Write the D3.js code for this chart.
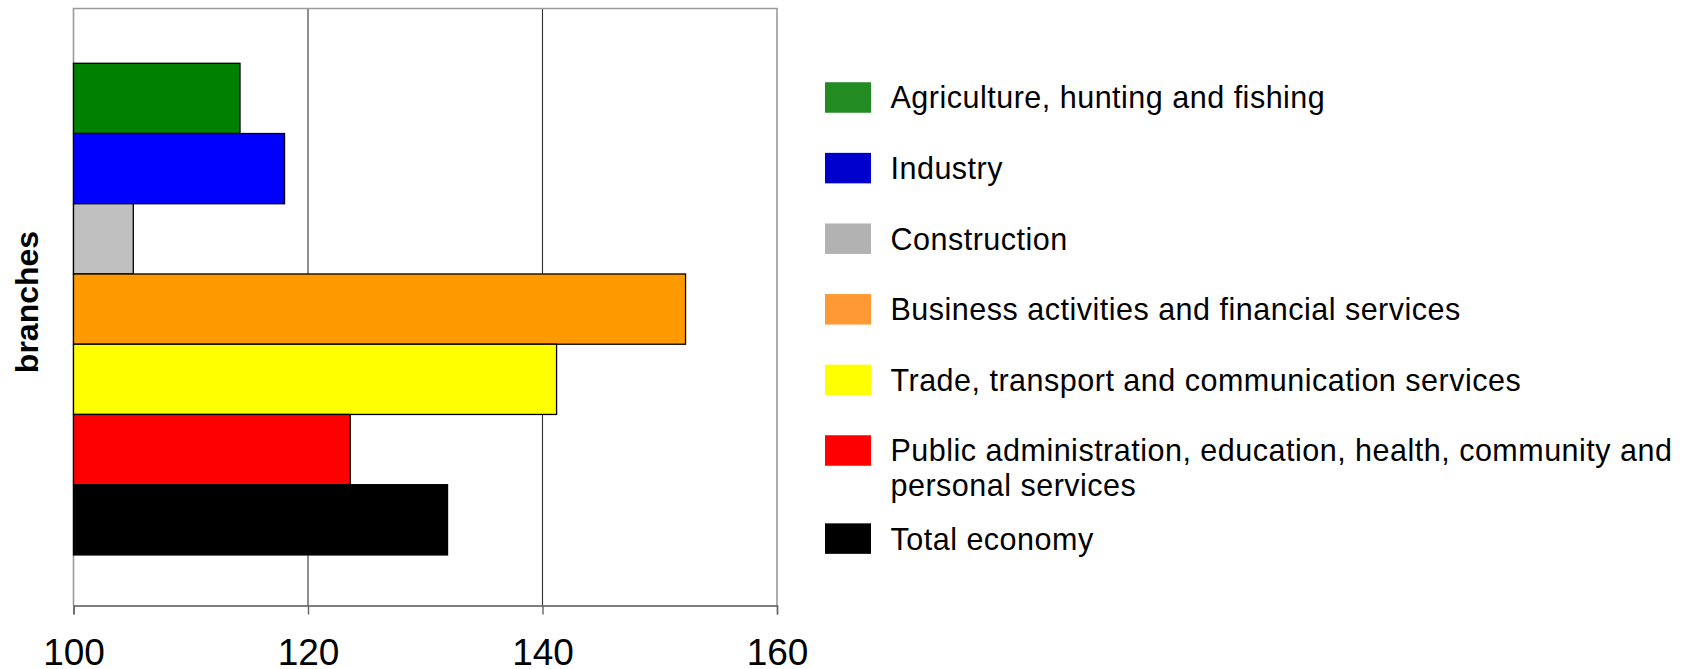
<!DOCTYPE html>
<html>
<head>
<meta charset="utf-8">
<script src="https://cdn.jsdelivr.net/npm/d3@7"></script>
<style>
  html, body { margin: 0; padding: 0; background: #fff; }
  svg { display: block; font-family: "Liberation Sans", Arial, sans-serif; }
</style>
</head>
<body>
<svg id="chart" width="1693" height="669"></svg>
<script>
// Branch names, top to bottom
const branches = [
  "Agriculture, hunting and fishing",
  "Industry",
  "Construction",
  "Business activities and financial services",
  "Trade, transport and communication services",
  "Public administration, education, health, community and personal services",
  "Total economy"
];
// Index values per branch
const values = [114.2, 118.0, 105.1, 152.2, 141.2, 123.6, 131.9];
// Horizontal axis ticks
const xTicks = [100, 120, 140, 160];
const axisTitle = "branches";

// Fill colours for bars and legend keys
const barColors    = ["#008000", "#0000FF", "#C0C0C0", "#FF9900", "#FFFF00", "#FF0000", "#000000"];
const legendColors = ["#228B22", "#0000CC", "#B2B2B2", "#FF9933", "#FFFF00", "#FF0000", "#000000"];

const svg = d3.select("#chart");
const W = 1693;

const plot = { left: 73.5, right: 777, top: 8.5, bottom: 605.5 };

const x = d3.scaleLinear()
  .domain([xTicks[0], xTicks[xTicks.length - 1]])
  .range([plot.left, plot.right]);

const y = d3.scaleBand()
  .domain(branches)
  .range([plot.top, plot.bottom])
  .paddingInner(0)
  .paddingOuter(0.75)
  .align(0.52);

// Vertical gridlines
svg.append("g")
  .selectAll("line")
  .data(xTicks.slice(1, -1))
  .join("line")
  .attr("x1", d => x(d)).attr("x2", d => x(d))
  .attr("y1", plot.top).attr("y2", plot.bottom)
  .attr("stroke", "#333")
  .attr("stroke-width", 1.1);

// Plot frame (top, left, right)
svg.append("path")
  .attr("d", `M${plot.left},${plot.bottom} V${plot.top} H${plot.right} V${plot.bottom}`)
  .attr("fill", "none")
  .attr("stroke", "#9a9a9a")
  .attr("stroke-width", 1.6);

// Bars
const rows = branches.map((b, i) => ({ name: b, value: values[i], color: barColors[i] }));
svg.append("g")
  .selectAll("rect")
  .data(rows)
  .join("rect")
  .attr("x", x(xTicks[0]))
  .attr("y", d => y(d.name))
  .attr("width", d => x(d.value) - x(xTicks[0]))
  .attr("height", y.bandwidth())
  .attr("fill", d => d.color)
  .attr("stroke", "#000")
  .attr("stroke-width", 1.3);

// Bottom axis
const xAxis = svg.append("g")
  .attr("transform", `translate(0,${plot.bottom})`)
  .call(d3.axisBottom(x).tickValues(xTicks).tickSize(9).tickPadding(24).tickFormat(d3.format("d")));
xAxis.select(".domain").attr("stroke", "#555").attr("stroke-width", 1.4);
xAxis.selectAll(".tick line").attr("stroke", "#666").attr("stroke-width", 1.4);
xAxis.selectAll(".tick text")
  .attr("font-family", "Liberation Sans, Arial, sans-serif")
  .attr("font-size", 37)
  .attr("fill", "#000");

// Vertical axis title
svg.append("text")
  .attr("transform", `translate(37.5,302) rotate(-90)`)
  .attr("text-anchor", "middle")
  .attr("font-size", 32)
  .attr("font-weight", "bold")
  .attr("fill", "#000")
  .text(axisTitle);

// Legend
const legend = { keyX: 825, keyW: 46, keyH: 30.5, textX: 890.5, firstY: 97.5, pitch: 70.6, lineH: 35, fontSize: 30.5 };
const maxTextWidth = W - legend.textX - 5;
const lg = svg.append("g");
let extraLines = 0;
branches.forEach((name, i) => {
  const cy = legend.firstY + i * legend.pitch + extraLines * legend.lineH / 2;
  lg.append("rect")
    .attr("x", legend.keyX)
    .attr("y", cy - legend.keyH / 2)
    .attr("width", legend.keyW)
    .attr("height", legend.keyH)
    .attr("fill", legendColors[i]);

  const t = lg.append("text")
    .attr("x", legend.textX)
    .attr("y", cy + legend.fontSize * 0.36)
    .attr("font-size", legend.fontSize)
    .attr("letter-spacing", "0.5px")
    .attr("fill", "#000");

  // wrap words onto lines that fit the remaining width
  const words = name.split(" ");
  let line = [];
  let tspan = t.append("tspan").attr("x", legend.textX).attr("dy", 0);
  let lineCount = 1;
  words.forEach(w => {
    line.push(w);
    tspan.text(line.join(" "));
    if (tspan.node().getComputedTextLength() > maxTextWidth && line.length > 1) {
      line.pop();
      tspan.text(line.join(" "));
      line = [w];
      tspan = t.append("tspan").attr("x", legend.textX).attr("dy", legend.lineH).text(w);
      lineCount++;
    }
  });
  extraLines += lineCount - 1;
});
</script>
</body>
</html>
